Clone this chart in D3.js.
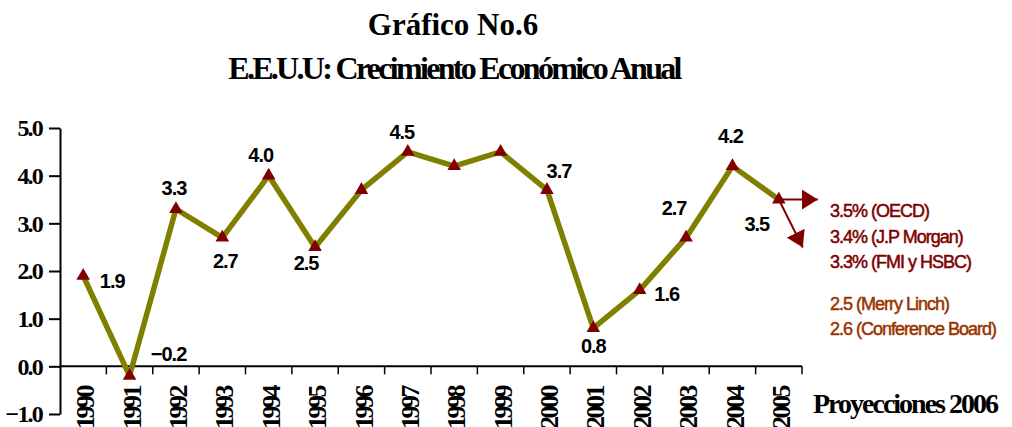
<!DOCTYPE html>
<html>
<head>
<meta charset="utf-8">
<script src="https://cdn.jsdelivr.net/npm/d3@7"></script>
<style>
  body { margin: 0; background: #fff; }
  svg { display: block; }
</style>
</head>
<body>
<div id="chart"></div>
<script>
// data
const years = ['1990','1991','1992','1993','1994','1995','1996','1997','1998','1999','2000','2001','2002','2003','2004','2005'];
const growth = [1.9, -0.2, 3.3, 2.7, 4.0, 2.5, 3.7, 4.5, 4.2, 4.5, 3.7, 0.8, 1.6, 2.7, 4.2, 3.5];
const yTicks = [-1, 0, 1, 2, 3, 4, 5];
const shownLabels = ['1990','1991','1992','1993','1994','1995','1997','2000','2001','2002','2003','2004','2005'];
const forecasts2006 = ['3.5% (OECD)', '3.4% (J.P Morgan)', '3.3% (FMI y HSBC)'];
const forecastsOther = ['2.5 (Merry Linch)', '2.6 (Conference Board)'];

// label offsets from the point (layout only)
const labelOffset = {
  '1990': [29, 12], '1991': [39, -15], '1992': [-2, -14], '1993': [3, 30],
  '1994': [-8, -14], '1995': [-9, 23], '1997': [-6, -13], '2000': [12, -12],
  '2001': [0, 25], '2002': [27, 11], '2003': [-12, -23], '2004': [-2, -23],
  '2005': [-22, 31]
};

const width = 1012, height = 427;
const serif = '"Times New Roman", "Liberation Serif", serif';
const sans = 'Arial, "Liberation Sans", sans-serif';

const svg = d3.select('#chart').append('svg')
  .attr('width', width)
  .attr('height', height);

const x = d3.scaleBand().domain(years).range([60, 802]);
const y = d3.scaleLinear().domain([-1, 5]).range([414, 128]);

// titles
svg.append('text')
  .attr('x', 453).attr('y', 35)
  .attr('text-anchor', 'middle')
  .style('font-family', serif).style('font-weight', 'bold').style('font-size', '31px')
  .text('Gráfico No.6');

svg.append('text')
  .attr('x', 454).attr('y', 79)
  .attr('text-anchor', 'middle')
  .style('font-family', serif).style('font-weight', 'bold').style('font-size', '32px')
  .style('letter-spacing', '-2.7px')
  .text('E.E.U.U: Crecimiento Económico Anual');

// y axis
const yAxis = svg.append('g')
  .attr('transform', 'translate(60,0)')
  .call(d3.axisLeft(y).tickValues(yTicks).tickFormat(d3.format('.1f')).tickSize(11).tickSizeOuter(0).tickPadding(7));
yAxis.select('.domain').attr('stroke', '#000').attr('stroke-width', 2);
yAxis.selectAll('.tick line').attr('stroke', '#000').attr('stroke-width', 2);
yAxis.selectAll('.tick text')
  .style('font-family', serif).style('font-weight', 'bold').style('font-size', '24px')
  .style('letter-spacing', '-1.8px')
  .attr('fill', '#000');

// x axis at zero
const xAxis = svg.append('g');
xAxis.append('line')
  .attr('x1', x.range()[0]).attr('x2', x.range()[1])
  .attr('y1', y(0)).attr('y2', y(0))
  .attr('stroke', '#000').attr('stroke-width', 2);
xAxis.selectAll('line.tick')
  .data(years)
  .enter().append('line')
  .attr('class', 'tick')
  .attr('x1', d => x(d) + x.bandwidth()).attr('x2', d => x(d) + x.bandwidth())
  .attr('y1', y(0)).attr('y2', y(0) + 8)
  .attr('stroke', '#000').attr('stroke-width', 1.5);
xAxis.selectAll('text')
  .data(years)
  .enter().append('text')
  .attr('transform', d => `translate(${x(d) + x.bandwidth() / 2 + 2},387) rotate(-90)`)
  .attr('text-anchor', 'end')
  .attr('dy', '0.35em')
  .style('font-family', serif).style('font-weight', 'bold').style('font-size', '26px')
  .style('letter-spacing', '-2.5px')
  .text(d => d);

// line
const pts = years.map((yr, i) => ({ year: yr, value: growth[i] }));
const line = d3.line()
  .x(d => x(d.year) + x.bandwidth() / 2)
  .y(d => y(d.value));

svg.append('path')
  .datum(pts)
  .attr('d', line)
  .attr('fill', 'none')
  .attr('stroke', '#808000')
  .attr('stroke-width', 5.5)
  .attr('stroke-linejoin', 'round');

// markers
svg.selectAll('path.marker')
  .data(pts)
  .enter().append('path')
  .attr('class', 'marker')
  .attr('d', d3.symbol().type(d3.symbolTriangle).size(80))
  .attr('transform', d => `translate(${x(d.year) + x.bandwidth() / 2},${y(d.value)})`)
  .attr('fill', '#800000');

// value labels
svg.selectAll('text.val')
  .data(pts.filter(d => shownLabels.includes(d.year)))
  .enter().append('text')
  .attr('class', 'val')
  .attr('x', d => x(d.year) + x.bandwidth() / 2 + labelOffset[d.year][0])
  .attr('y', d => y(d.value) + labelOffset[d.year][1])
  .attr('text-anchor', 'middle')
  .style('font-family', sans).style('font-weight', 'bold').style('font-size', '20px')
  .style('letter-spacing', '-1px')
  .text(d => d3.format('.1f')(d.value));

// projection arrows from last point
const last = pts[pts.length - 1];
const lx = x(last.year) + x.bandwidth() / 2, ly = y(last.value);
const defs = svg.append('defs');
defs.append('marker')
  .attr('id', 'head')
  .attr('markerUnits', 'userSpaceOnUse')
  .attr('viewBox', '0 0 16 20')
  .attr('refX', 16).attr('refY', 10)
  .attr('markerWidth', 16).attr('markerHeight', 20)
  .attr('orient', 'auto')
  .append('path')
  .attr('d', 'M0,0 L16,10 L0,20 Z')
  .attr('fill', '#800000');

svg.append('line')
  .attr('x1', lx).attr('y1', ly)
  .attr('x2', lx + 39).attr('y2', ly)
  .attr('stroke', '#800000').attr('stroke-width', 2)
  .attr('marker-end', 'url(#head)');
svg.append('line')
  .attr('x1', lx).attr('y1', ly)
  .attr('x2', lx + 24).attr('y2', ly + 48)
  .attr('stroke', '#800000').attr('stroke-width', 2)
  .attr('marker-end', 'url(#head)');

// forecasts
svg.selectAll('text.fc1')
  .data(forecasts2006)
  .enter().append('text')
  .attr('class', 'fc1')
  .attr('x', 830)
  .attr('y', (d, i) => 217 + i * 25.5)
  .style('font-family', sans).style('font-size', '18px')
  .style('letter-spacing', '-1px')
  .attr('fill', '#800000')
  .attr('stroke', '#800000').attr('stroke-width', 0.5)
  .text(d => d);

svg.selectAll('text.fc2')
  .data(forecastsOther)
  .enter().append('text')
  .attr('class', 'fc2')
  .attr('x', 830)
  .attr('y', (d, i) => 310 + i * 25)
  .style('font-family', sans).style('font-size', '18px')
  .style('letter-spacing', '-1px')
  .attr('fill', '#993300')
  .attr('stroke', '#993300').attr('stroke-width', 0.5)
  .text(d => d);

svg.append('text')
  .attr('x', 813).attr('y', 413)
  .style('font-family', serif).style('font-weight', 'bold').style('font-size', '28px')
  .style('letter-spacing', '-2px')
  .text('Proyecciones 2006');
</script>
</body>
</html>
